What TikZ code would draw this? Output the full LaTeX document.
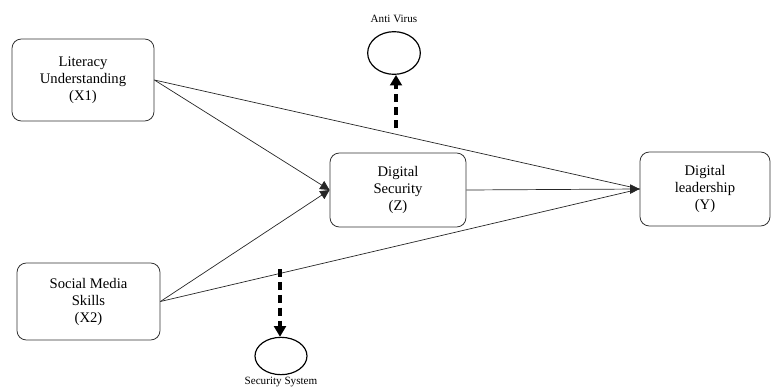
\documentclass[tikz,border=0pt]{standalone}
\usepackage{fontspec}
\setmainfont{Liberation Serif}
\usetikzlibrary{arrows.meta,shapes.geometric}

\tikzset{
	varbox/.style={draw=black!80, line width=0.7pt, rounded corners=8pt, align=center,
		font=\fontsize{12.5}{14.5}\selectfont, inner sep=2pt},
	indic/.style={draw=black, line width=1pt, ellipse},
	link/.style={draw=black!85, line width=0.6pt},
	dasharr/.style={line width=3pt, dash pattern=on 7pt off 4pt, -{Triangle[length=9pt,width=10pt]}},
	smalltxt/.style={font=\fontsize{9.5}{11}\selectfont}
}

\begin{document}
\begin{tikzpicture}[x=0.03cm, y=-0.03cm]
			%%%%% START %%%%%
			\useasboundingbox (0, 0) rectangle (772, 389);
			
			\node[varbox, minimum width=4.26cm, minimum height=2.46cm] (x1) at (83, 80) {Literacy\\Understanding\\(X1)};
			\node[varbox, minimum width=4.29cm, minimum height=2.31cm] (x2) at (88.5, 301.5) {Social Media\\Skills\\(X2)};
			\node[varbox, minimum width=4.08cm, minimum height=2.22cm] (z) at (398, 190) {Digital\\Security\\(Z)};
			\node[varbox, minimum width=3.9cm, minimum height=2.22cm] (y) at (705, 189) {Digital\\leadership\\(Y)};
			
			\node[indic, minimum width=1.58cm, minimum height=1.28cm] (av) at (394, 53) {};
			\node[smalltxt] (avlab) at (394, 19) {Anti Virus};
			\node[indic, minimum width=1.56cm, minimum height=1.12cm] (ss) at (281, 356) {};
			\node[smalltxt, anchor=south, inner sep=1pt] (sslab) at (281, 388.5) {Security System};
			
			\draw[link, -{Triangle[length=8pt,width=8pt]}] (x1.east) -- (z.west);
			\draw[link, -{Triangle[length=8pt,width=8pt]}] (x2.east) -- (z.west);
			\draw[link] (x1.east) -- (y.west);
			\draw[link] (x2.east) -- (y.west);
			\draw[link, -{Triangle[length=8pt,width=8pt]}] (z.east) -- (y.west);
			
			\coordinate (avfoot) at (396, 128);
			\coordinate (sstop) at (280, 269);
			\draw[dasharr] (avfoot) -- (av.south -| avfoot);
			\draw[dasharr] (sstop) -- (ss.north -| sstop);
			
			%%%%% END %%%%%
\end{tikzpicture}
\end{document}
